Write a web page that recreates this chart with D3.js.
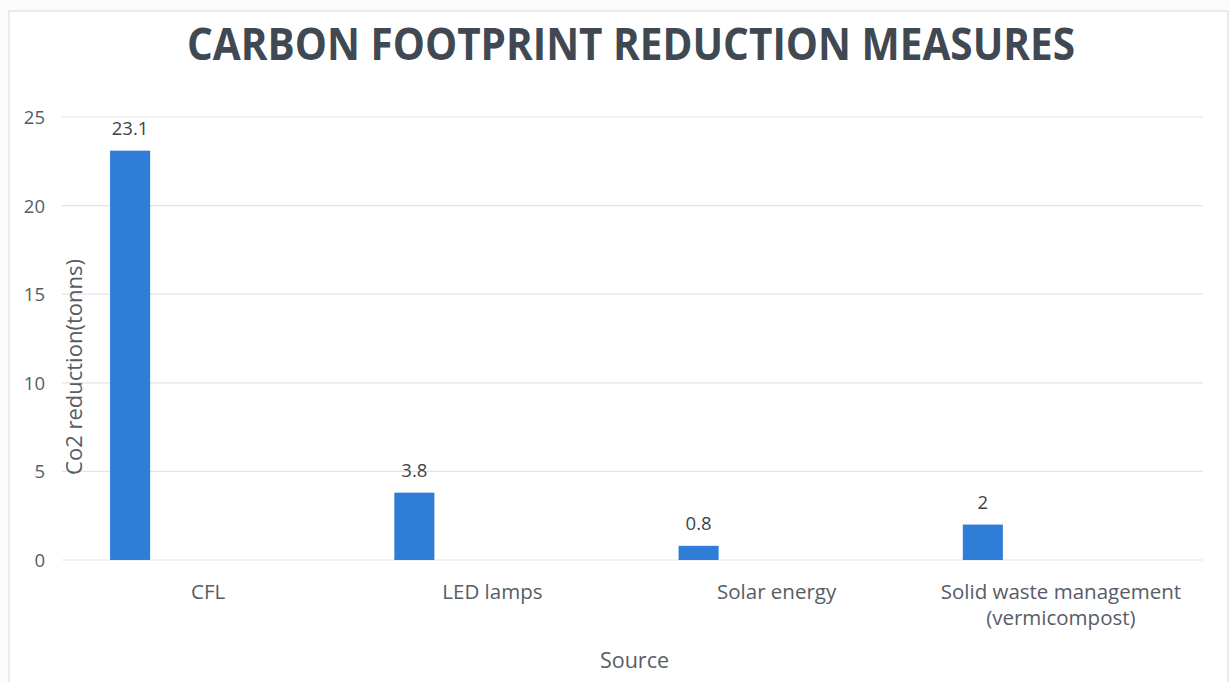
<!DOCTYPE html>
<html>
<head>
<meta charset="utf-8">
<script src="https://cdn.jsdelivr.net/npm/d3@7"></script>
<style>
  html, body { margin: 0; padding: 0; background: #fcfcfc; }
  svg { display: block; }
</style>
</head>
<body>
<div id="chart"></div>
<script>
// ---- data ----
const categories = ["CFL", "LED lamps", "Solar energy", "Solid waste management\n(vermicompost)"];
const values = [23.1, 3.8, 0.8, 2];
const valueLabels = ["23.1", "3.8", "0.8", "2"];
const yTicks = [0, 5, 10, 15, 20, 25];
const titleText = "CARBON FOOTPRINT REDUCTION MEASURES";
const yTitleText = "Co2 reduction(tonns)";
const xTitleText = "Source";

const W = 1230, H = 682;
const plot = { left: 66, right: 1203, top: 117, bottom: 560 };
const textColor = "#565d66";
const barColor = "#2f7dd6";
const font = "'Open Sans', 'DejaVu Sans', sans-serif";

const svg = d3.select("#chart").append("svg")
  .attr("width", W).attr("height", H);

// faint page border
svg.append("rect")
  .attr("x", 9).attr("y", 11).attr("width", 1219).attr("height", 700)
  .attr("fill", "#ffffff").attr("stroke", "#d8d8d8").attr("stroke-width", 1);

const x = d3.scaleBand().domain(categories).range([plot.left, plot.right]).padding(0);
const y = d3.scaleLinear().domain([0, 25]).range([plot.bottom, plot.top]);

// gridlines
svg.append("g").selectAll("line").data(yTicks).join("line")
  .attr("x1", plot.left - 4).attr("x2", plot.right)
  .attr("y1", d => y(d)).attr("y2", d => y(d))
  .attr("stroke", "#e2e3e9").attr("stroke-width", 1.2);

// y axis labels
const yAxis = d3.axisLeft(y).tickValues(yTicks).tickSize(0).tickPadding(0);
const yg = svg.append("g").attr("transform", `translate(45,0)`).call(yAxis);
yg.select(".domain").remove();
yg.selectAll("text")
  .attr("fill", textColor).attr("font-family", font).attr("font-size", 18.5)
  .attr("dy", "0.35em");

// bars
const bw = x.bandwidth();
svg.append("g").selectAll("rect").data(values).join("rect")
  .attr("x", (d, i) => x(categories[i]) + bw * 0.155)
  .attr("width", bw * 0.141)
  .attr("y", d => y(d))
  .attr("height", d => y(0) - y(d))
  .attr("fill", barColor);

// data labels
svg.append("g").selectAll("text").data(values).join("text")
  .attr("x", (d, i) => x(categories[i]) + bw * 0.155 + bw * 0.0705)
  .attr("y", d => y(d) - 16)
  .attr("text-anchor", "middle")
  .attr("fill", "#3d434a").attr("font-family", font).attr("font-size", 18.5)
  .text((d, i) => valueLabels[i]);

// x axis category labels
const xAxis = d3.axisBottom(x).tickSize(0).tickPadding(0);
const xg = svg.append("g").attr("transform", `translate(0,${plot.bottom})`).call(xAxis);
xg.select(".domain").remove();
xg.selectAll("text").each(function(d) {
  const t = d3.select(this);
  t.text(null)
    .attr("y", 0)
    .attr("dy", null)
    .attr("fill", textColor).attr("font-family", font).attr("font-size", 20.5);
  d.split("\n").forEach((line, k) => {
    t.append("tspan").attr("x", 0).attr("y", 39 + k * 26).text(line);
  });
});

// axis titles
svg.append("text")
  .attr("transform", `translate(82,367) rotate(-90)`)
  .attr("text-anchor", "middle")
  .attr("fill", textColor).attr("font-family", font).attr("font-size", 22)
  .text(yTitleText);

svg.append("text")
  .attr("x", (plot.left + plot.right) / 2).attr("y", 668)
  .attr("text-anchor", "middle")
  .attr("fill", textColor).attr("font-family", font).attr("font-size", 21.5)
  .text(xTitleText);

// chart title
svg.append("text")
  .attr("x", 631).attr("y", 60)
  .attr("text-anchor", "middle")
  .attr("fill", "#404852").attr("font-family", font).attr("font-size", 45)
  .attr("font-weight", "bold")
  .attr("textLength", 888).attr("lengthAdjust", "spacingAndGlyphs")
  .text(titleText);
</script>
</body>
</html>
